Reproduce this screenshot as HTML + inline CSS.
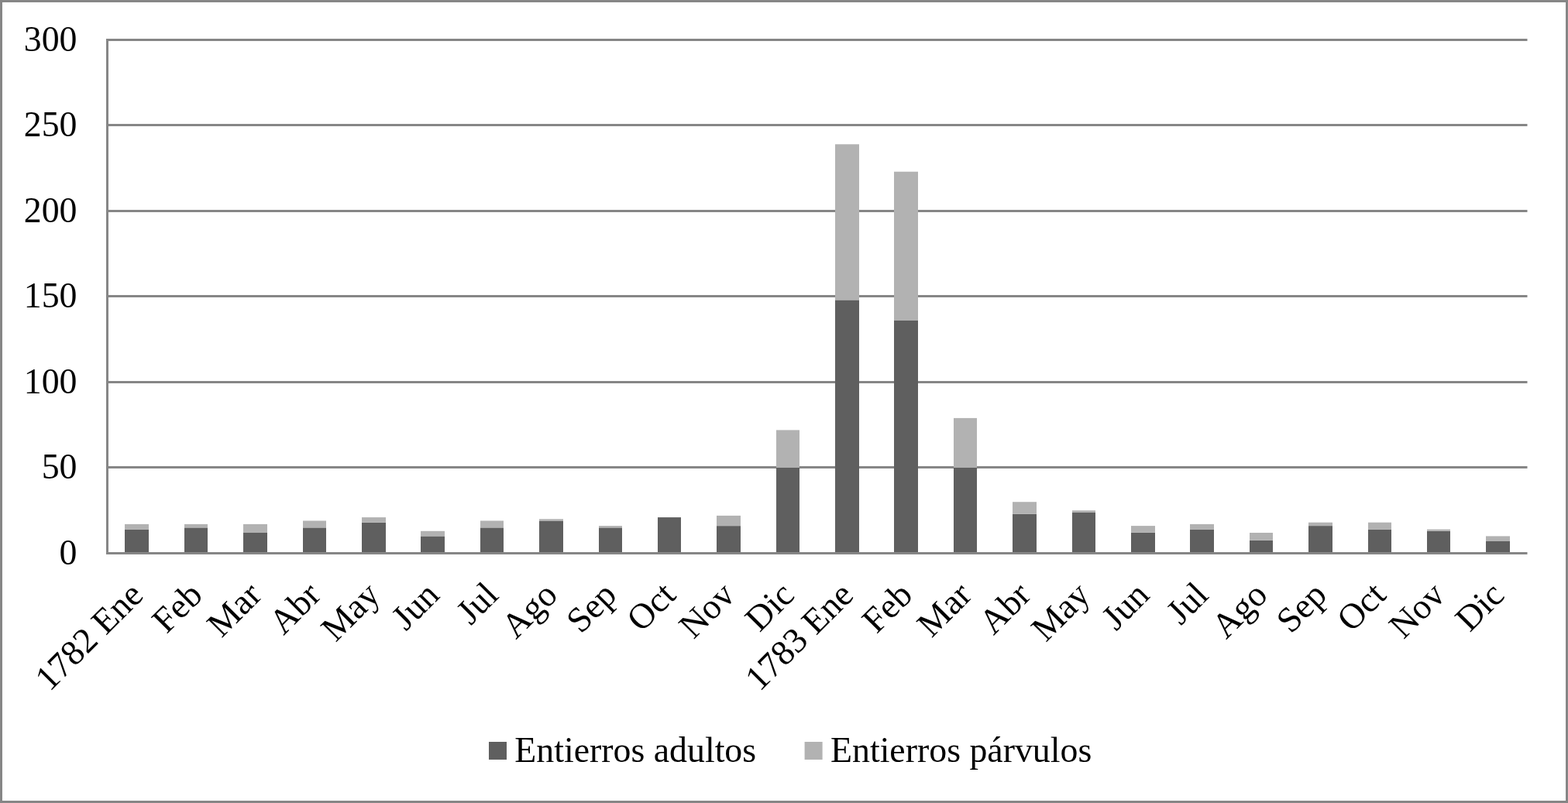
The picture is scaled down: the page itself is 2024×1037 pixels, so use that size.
<!DOCTYPE html>
<html lang="es"><head><meta charset="utf-8"><title>Entierros 1782-1783</title>
<style>
html,body{margin:0;padding:0;background:#fff;}
body{width:2024px;height:1037px;overflow:hidden;}
svg{display:block;}
text{font-family:"Liberation Serif","Times New Roman",serif;font-size:45.83px;fill:#000;}
</style></head><body>
<svg width="2024" height="1037" viewBox="0 0 2024 1037">
<rect x="0" y="0" width="2024" height="1037" fill="#fff"/>
<rect x="1.5" y="1.5" width="2021" height="1034" fill="none" stroke="#868686" stroke-width="3"/>

<rect x="137" y="50" width="1834.5" height="3" fill="#868686"/>
<rect x="137" y="160" width="1834.5" height="3" fill="#868686"/>
<rect x="137" y="271" width="1834.5" height="3" fill="#868686"/>
<rect x="137" y="381" width="1834.5" height="3" fill="#868686"/>
<rect x="137" y="492" width="1834.5" height="3" fill="#868686"/>
<rect x="137" y="602" width="1834.5" height="3" fill="#868686"/>
<rect x="137" y="713" width="1834.5" height="3" fill="#868686"/>
<rect x="137" y="50" width="3" height="666" fill="#868686"/>
<rect x="161" y="683.6" width="31" height="29.4" fill="#5f5f5f"/>
<rect x="161" y="676.9" width="31" height="6.6" fill="#b2b2b2"/>
<rect x="238" y="681.4" width="30" height="31.6" fill="#5f5f5f"/>
<rect x="238" y="676.9" width="30" height="4.4" fill="#b2b2b2"/>
<rect x="314" y="688.0" width="31" height="25.0" fill="#5f5f5f"/>
<rect x="314" y="676.9" width="31" height="11.1" fill="#b2b2b2"/>
<rect x="391" y="681.4" width="30" height="31.6" fill="#5f5f5f"/>
<rect x="391" y="672.5" width="30" height="8.8" fill="#b2b2b2"/>
<rect x="467" y="674.7" width="31" height="38.3" fill="#5f5f5f"/>
<rect x="467" y="668.1" width="31" height="6.6" fill="#b2b2b2"/>
<rect x="543" y="692.4" width="31" height="20.6" fill="#5f5f5f"/>
<rect x="543" y="685.8" width="31" height="6.6" fill="#b2b2b2"/>
<rect x="620" y="681.4" width="30" height="31.6" fill="#5f5f5f"/>
<rect x="620" y="672.5" width="30" height="8.8" fill="#b2b2b2"/>
<rect x="696" y="672.5" width="31" height="40.5" fill="#5f5f5f"/>
<rect x="696" y="670.3" width="31" height="2.2" fill="#b2b2b2"/>
<rect x="773" y="681.4" width="30" height="31.6" fill="#5f5f5f"/>
<rect x="773" y="679.1" width="30" height="2.2" fill="#b2b2b2"/>
<rect x="849" y="668.1" width="30" height="44.9" fill="#5f5f5f"/>
<rect x="925" y="679.1" width="31" height="33.9" fill="#5f5f5f"/>
<rect x="925" y="665.9" width="31" height="13.3" fill="#b2b2b2"/>
<rect x="1002" y="604.0" width="30" height="109.0" fill="#5f5f5f"/>
<rect x="1002" y="555.4" width="30" height="48.6" fill="#b2b2b2"/>
<rect x="1078" y="387.4" width="31" height="325.6" fill="#5f5f5f"/>
<rect x="1078" y="186.3" width="31" height="201.1" fill="#b2b2b2"/>
<rect x="1154" y="413.9" width="31" height="299.1" fill="#5f5f5f"/>
<rect x="1154" y="221.7" width="31" height="192.3" fill="#b2b2b2"/>
<rect x="1231" y="604.0" width="30" height="109.0" fill="#5f5f5f"/>
<rect x="1231" y="539.9" width="30" height="64.1" fill="#b2b2b2"/>
<rect x="1307" y="663.7" width="31" height="49.3" fill="#5f5f5f"/>
<rect x="1307" y="648.2" width="31" height="15.5" fill="#b2b2b2"/>
<rect x="1384" y="661.5" width="30" height="51.5" fill="#5f5f5f"/>
<rect x="1384" y="659.2" width="30" height="2.2" fill="#b2b2b2"/>
<rect x="1460" y="688.0" width="31" height="25.0" fill="#5f5f5f"/>
<rect x="1460" y="679.1" width="31" height="8.8" fill="#b2b2b2"/>
<rect x="1536" y="683.6" width="31" height="29.4" fill="#5f5f5f"/>
<rect x="1536" y="676.9" width="31" height="6.6" fill="#b2b2b2"/>
<rect x="1613" y="697.7" width="30" height="15.3" fill="#5f5f5f"/>
<rect x="1613" y="688.0" width="30" height="9.7" fill="#b2b2b2"/>
<rect x="1689" y="679.1" width="31" height="33.9" fill="#5f5f5f"/>
<rect x="1689" y="674.7" width="31" height="4.4" fill="#b2b2b2"/>
<rect x="1766" y="683.6" width="30" height="29.4" fill="#5f5f5f"/>
<rect x="1766" y="674.7" width="30" height="8.8" fill="#b2b2b2"/>
<rect x="1842" y="685.8" width="30" height="27.2" fill="#5f5f5f"/>
<rect x="1842" y="683.6" width="30" height="2.2" fill="#b2b2b2"/>
<rect x="1918" y="699.0" width="31" height="14.0" fill="#5f5f5f"/>
<rect x="1918" y="692.4" width="31" height="6.6" fill="#b2b2b2"/>
<text x="99.5" y="66.3" text-anchor="end">300</text>
<text x="99.5" y="176.3" text-anchor="end">250</text>
<text x="99.5" y="287.3" text-anchor="end">200</text>
<text x="99.5" y="397.3" text-anchor="end">150</text>
<text x="99.5" y="508.3" text-anchor="end">100</text>
<text x="99.5" y="618.3" text-anchor="end">50</text>
<text x="99.5" y="729.3" text-anchor="end">0</text>
<text transform="translate(187.2,770.8) rotate(-45)" text-anchor="end">1782 Ene</text>
<text transform="translate(263.6,770.8) rotate(-45)" text-anchor="end">Feb</text>
<text transform="translate(340.0,770.8) rotate(-45)" text-anchor="end">Mar</text>
<text transform="translate(416.3,770.8) rotate(-45)" text-anchor="end">Abr</text>
<text transform="translate(492.7,770.8) rotate(-45)" text-anchor="end">May</text>
<text transform="translate(569.1,770.8) rotate(-45)" text-anchor="end">Jun</text>
<text transform="translate(645.5,770.8) rotate(-45)" text-anchor="end">Jul</text>
<text transform="translate(721.9,770.8) rotate(-45)" text-anchor="end">Ago</text>
<text transform="translate(798.3,770.8) rotate(-45)" text-anchor="end">Sep</text>
<text transform="translate(874.6,770.8) rotate(-45)" text-anchor="end">Oct</text>
<text transform="translate(951.0,770.8) rotate(-45)" text-anchor="end">Nov</text>
<text transform="translate(1027.4,770.8) rotate(-45)" text-anchor="end">Dic</text>
<text transform="translate(1103.8,770.8) rotate(-45)" text-anchor="end">1783 Ene</text>
<text transform="translate(1180.2,770.8) rotate(-45)" text-anchor="end">Feb</text>
<text transform="translate(1256.6,770.8) rotate(-45)" text-anchor="end">Mar</text>
<text transform="translate(1332.9,770.8) rotate(-45)" text-anchor="end">Abr</text>
<text transform="translate(1409.3,770.8) rotate(-45)" text-anchor="end">May</text>
<text transform="translate(1485.7,770.8) rotate(-45)" text-anchor="end">Jun</text>
<text transform="translate(1562.1,770.8) rotate(-45)" text-anchor="end">Jul</text>
<text transform="translate(1638.5,770.8) rotate(-45)" text-anchor="end">Ago</text>
<text transform="translate(1714.9,770.8) rotate(-45)" text-anchor="end">Sep</text>
<text transform="translate(1791.2,770.8) rotate(-45)" text-anchor="end">Oct</text>
<text transform="translate(1867.6,770.8) rotate(-45)" text-anchor="end">Nov</text>
<text transform="translate(1944.0,770.8) rotate(-45)" text-anchor="end">Dic</text>
<rect x="631" y="958" width="23" height="23" fill="#5f5f5f"/>
<text x="664.3" y="983.9">Entierros adultos</text>
<rect x="1038.6" y="958" width="23" height="23" fill="#b2b2b2"/>
<text x="1072" y="983.9">Entierros párvulos</text>
</svg></body></html>
